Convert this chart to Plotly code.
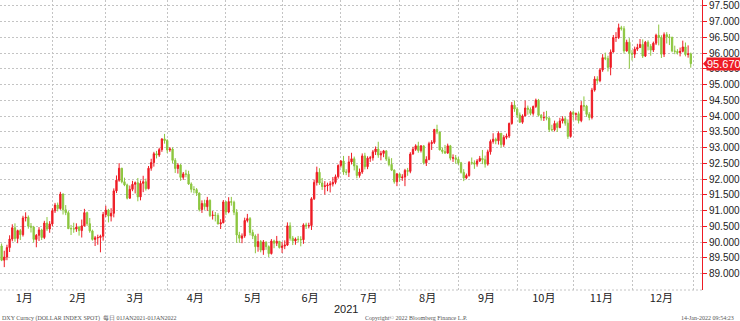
import pandas as pd
import plotly.graph_objects as go

# ---- data: DXY daily OHLC, 2021 ----
dates = pd.bdate_range("2021-01-04", "2021-12-31")

open_px = [
    89.94, 89.88, 89.43, 89.53, 89.83, 90.10, 90.46, 90.12, 90.37, 90.24, 90.77, 90.79, 90.51, 90.48, 90.09, 90.22, 90.39, 90.15, 90.61, 90.42,
    90.58, 91.00, 91.18, 91.07, 91.53, 91.03, 90.94, 90.43, 90.43, 90.42, 90.48, 90.37, 90.52, 90.94, 90.59, 90.36, 90.09, 90.14, 90.15, 90.19,
    90.88, 91.02, 90.83, 90.92, 91.63, 91.97, 92.35, 91.92, 91.82, 91.40, 91.68, 91.84, 91.89, 91.44, 91.87, 91.92, 91.70, 92.35, 92.53, 92.81, 92.77, 92.94, 93.28,
    93.23, 92.93, 92.96, 92.60, 92.34, 92.45, 92.06, 92.17, 92.16, 91.85, 91.68, 91.67, 91.56, 91.04, 91.23, 91.13, 91.33, 90.85, 90.86, 90.85, 90.58, 90.62,
    91.28, 90.96, 91.29, 91.27, 90.95, 90.23, 90.13, 90.20, 90.69, 90.75, 90.31, 90.20, 89.86, 90.02, 89.75, 90.01, 89.86, 89.64, 90.04, 89.97, 90.03,
    89.83, 89.88, 89.91, 90.52, 90.13, 90.04, 90.10, 90.09, 90.08, 90.55, 90.52, 90.53, 91.38, 91.90, 92.22, 91.88, 91.77, 91.79, 91.82, 91.85, 91.90, 92.08,
    92.44, 92.58, 92.23, 92.22, 92.55, 92.65, 92.42, 92.12, 92.23, 92.74, 92.40, 92.67, 92.68, 92.87, 92.96, 92.77, 92.82, 92.90, 92.64, 92.47, 92.29, 91.92,
    92.17, 92.05, 92.07, 92.28, 92.25, 92.80, 92.95, 93.06, 92.91, 93.06, 92.52, 92.63, 93.13, 93.17, 93.58, 93.50, 92.93, 92.88, 92.83, 93.06, 92.67, 92.68,
    92.63, 92.52, 92.22, 92.04, 92.12, 92.53, 92.52, 92.48, 92.58, 92.66, 92.62, 92.48, 92.87, 93.20, 93.27, 93.22, 93.46, 93.10, 93.33, 93.37, 93.77, 94.35,
    94.23, 94.04, 93.81, 94.01, 94.26, 94.22, 94.09, 94.31, 94.51, 94.03, 93.95, 93.96, 93.94, 93.58, 93.57, 93.77, 93.64, 93.85, 93.92, 93.78, 93.36,
    94.12, 94.06, 94.08, 93.86, 94.34, 94.32, 94.06, 93.96, 94.83, 95.18, 95.13, 95.47, 95.86, 95.83, 95.55, 96.04, 96.50, 96.50, 96.81, 96.78, 96.07, 96.35,
    95.99, 95.97, 96.13, 96.18, 96.28, 95.91, 96.35, 96.22, 96.10, 96.32, 96.57, 96.50, 95.97, 96.59, 96.52, 96.50, 96.07, 96.06, 96.02, 96.06, 96.20, 95.96, 95.98,
]
high_px = [
    90.08, 89.96, 89.73, 89.92, 90.22, 90.57, 90.60, 90.40, 90.42, 90.84, 90.95, 90.85, 90.61, 90.52, 90.26, 90.48, 90.43, 90.68, 90.80, 90.67,
    91.08, 91.25, 91.26, 91.60, 91.55, 91.18, 90.99, 90.55, 90.62, 90.60, 90.52, 90.72, 91.06, 90.97, 90.77, 90.40, 90.20, 90.24, 90.24, 90.96,
    91.16, 91.06, 91.08, 91.71, 92.12, 92.51, 92.36, 92.05, 91.86, 91.80, 91.95, 91.93, 92.04, 91.96, 92.11, 92.02, 92.42, 92.65, 92.87, 92.90, 93.00, 93.30, 93.44,
    93.27, 93.02, 93.01, 92.67, 92.51, 92.48, 92.23, 92.30, 92.27, 91.90, 91.78, 91.72, 91.58, 91.33, 91.35, 91.44, 91.36, 90.99, 90.96, 90.92, 90.73, 91.34,
    91.31, 91.43, 91.44, 91.32, 91.05, 90.33, 90.28, 90.78, 90.90, 90.80, 90.40, 90.25, 90.27, 90.07, 90.07, 90.02, 89.90, 90.10, 90.08, 90.20, 90.04,
    90.01, 90.06, 90.63, 90.63, 90.20, 90.15, 90.20, 90.19, 90.60, 90.62, 90.62, 91.43, 91.99, 92.40, 92.35, 92.04, 91.94, 91.89, 91.94, 92.07, 92.15, 92.47,
    92.61, 92.74, 92.32, 92.74, 92.84, 92.72, 92.46, 92.34, 92.82, 92.84, 92.73, 92.74, 92.93, 93.04, 93.19, 92.90, 92.93, 92.92, 92.72, 92.67, 92.31, 92.20,
    92.20, 92.16, 92.33, 92.36, 92.86, 93.03, 93.11, 93.19, 93.08, 93.07, 92.73, 93.19, 93.24, 93.60, 93.73, 93.51, 93.01, 93.09, 93.13, 93.09, 92.79, 92.77,
    92.71, 92.55, 92.32, 92.18, 92.58, 92.69, 92.60, 92.64, 92.74, 92.93, 92.75, 92.94, 93.26, 93.46, 93.32, 93.52, 93.47, 93.40, 93.45, 93.80, 94.45, 94.50,
    94.29, 94.12, 94.06, 94.50, 94.34, 94.28, 94.34, 94.56, 94.55, 94.07, 94.14, 94.17, 93.97, 93.73, 93.86, 93.83, 93.95, 94.00, 93.99, 93.90, 94.17,
    94.18, 94.12, 94.15, 94.48, 94.63, 94.36, 94.13, 94.90, 95.27, 95.27, 95.53, 95.97, 96.02, 95.92, 96.12, 96.58, 96.67, 96.94, 96.87, 96.86, 96.43, 96.48,
    96.10, 96.21, 96.30, 96.45, 96.44, 96.39, 96.41, 96.29, 96.37, 96.62, 96.91, 96.57, 96.66, 96.67, 96.61, 96.53, 96.24, 96.13, 96.18, 96.40, 96.34, 96.25, 96.02,
]
low_px = [
    89.42, 89.40, 89.21, 89.43, 89.69, 90.03, 90.02, 89.97, 90.07, 90.18, 90.66, 90.43, 90.31, 89.99, 89.84, 90.04, 90.07, 90.10, 90.36, 90.30,
    90.51, 90.93, 90.98, 91.03, 90.88, 90.86, 90.42, 90.23, 90.30, 90.33, 90.21, 90.15, 90.50, 90.52, 90.30, 90.05, 89.88, 89.92, 89.68, 90.05,
    90.80, 90.63, 90.66, 90.79, 91.56, 91.92, 91.87, 91.78, 91.36, 91.38, 91.62, 91.55, 91.30, 91.33, 91.59, 91.64, 91.68, 92.27, 92.40, 92.66, 92.71, 92.87, 93.13,
    92.83, 92.87, 92.51, 92.20, 92.18, 91.95, 91.98, 92.06, 91.82, 91.58, 91.55, 91.47, 90.98, 90.93, 91.03, 90.99, 90.80, 90.72, 90.66, 90.57, 90.42, 90.60,
    90.86, 90.92, 91.16, 90.86, 89.98, 89.98, 89.97, 90.14, 90.63, 90.22, 90.10, 89.65, 89.70, 89.68, 89.60, 89.76, 89.53, 89.61, 89.81, 89.88, 89.80,
    89.66, 89.78, 89.88, 90.05, 89.91, 89.92, 89.99, 89.87, 89.95, 90.42, 90.44, 90.39, 91.34, 91.80, 91.82, 91.66, 91.51, 91.62, 91.58, 91.77, 91.84, 92.02,
    92.37, 92.14, 92.13, 92.07, 92.47, 92.28, 92.03, 92.05, 92.17, 92.31, 92.32, 92.55, 92.59, 92.77, 92.68, 92.60, 92.70, 92.58, 92.41, 92.26, 91.86, 91.78,
    91.92, 91.95, 91.78, 92.11, 92.19, 92.78, 92.90, 92.84, 92.85, 92.47, 92.42, 92.60, 92.93, 93.12, 93.43, 92.92, 92.81, 92.80, 92.81, 92.60, 92.55, 92.49,
    92.45, 92.18, 91.94, 92.00, 92.08, 92.46, 92.33, 92.40, 92.55, 92.48, 92.37, 92.43, 92.78, 93.13, 93.11, 93.10, 93.01, 93.03, 93.27, 93.31, 93.73, 94.14,
    93.95, 93.79, 93.76, 94.00, 94.05, 94.03, 94.02, 94.26, 93.99, 93.86, 93.85, 93.87, 93.50, 93.52, 93.52, 93.50, 93.62, 93.77, 93.70, 93.28, 93.32,
    93.87, 93.87, 93.77, 93.81, 94.17, 93.98, 93.87, 93.90, 94.78, 95.03, 95.08, 95.41, 95.78, 95.42, 95.30, 96.02, 96.36, 96.45, 96.72, 95.99, 96.05, 95.51,
    95.77, 95.85, 96.07, 96.18, 95.85, 95.88, 96.09, 95.92, 96.04, 96.26, 96.25, 95.85, 95.88, 96.31, 96.26, 96.03, 95.97, 95.96, 95.90, 96.03, 95.90, 95.86, 95.54,
]
close_px = [
    89.88, 89.43, 89.53, 89.83, 90.10, 90.46, 90.12, 90.37, 90.24, 90.77, 90.79, 90.51, 90.48, 90.09, 90.22, 90.39, 90.15, 90.61, 90.42, 90.58,
    91.00, 91.18, 91.07, 91.53, 91.03, 90.94, 90.43, 90.43, 90.42, 90.48, 90.37, 90.52, 90.94, 90.59, 90.36, 90.09, 90.14, 90.15, 90.19, 90.88,
    91.02, 90.83, 90.92, 91.63, 91.97, 92.35, 91.92, 91.82, 91.40, 91.68, 91.84, 91.89, 91.44, 91.87, 91.92, 91.70, 92.35, 92.53, 92.81, 92.77, 92.94, 93.28, 93.23,
    92.93, 92.96, 92.60, 92.34, 92.45, 92.06, 92.17, 92.16, 91.85, 91.68, 91.67, 91.56, 91.04, 91.23, 91.13, 91.33, 90.85, 90.86, 90.85, 90.58, 90.62, 91.28,
    90.96, 91.29, 91.27, 90.95, 90.23, 90.13, 90.20, 90.69, 90.75, 90.31, 90.20, 89.86, 90.02, 89.75, 90.01, 89.86, 89.64, 90.04, 89.97, 90.03, 89.83,
    89.88, 89.91, 90.52, 90.13, 90.04, 90.10, 90.09, 90.08, 90.55, 90.52, 90.53, 91.38, 91.90, 92.22, 91.88, 91.77, 91.79, 91.82, 91.85, 91.90, 92.08, 92.44,
    92.58, 92.23, 92.22, 92.55, 92.65, 92.42, 92.12, 92.23, 92.74, 92.40, 92.67, 92.68, 92.87, 92.96, 92.77, 92.82, 92.90, 92.64, 92.47, 92.29, 91.92, 92.17,
    92.05, 92.07, 92.28, 92.25, 92.80, 92.95, 93.06, 92.91, 93.06, 92.52, 92.63, 93.13, 93.17, 93.58, 93.50, 92.93, 92.88, 92.83, 93.06, 92.67, 92.68, 92.63,
    92.52, 92.22, 92.04, 92.12, 92.53, 92.52, 92.48, 92.58, 92.66, 92.62, 92.48, 92.87, 93.20, 93.27, 93.22, 93.46, 93.10, 93.33, 93.37, 93.77, 94.35, 94.23,
    94.04, 93.81, 94.01, 94.26, 94.22, 94.09, 94.31, 94.51, 94.03, 93.95, 93.96, 93.94, 93.58, 93.57, 93.77, 93.64, 93.85, 93.92, 93.78, 93.36, 94.12,
    94.06, 94.08, 93.86, 94.34, 94.32, 94.06, 93.96, 94.83, 95.18, 95.13, 95.47, 95.86, 95.83, 95.55, 96.04, 96.50, 96.50, 96.81, 96.78, 96.07, 96.35, 95.99,
    95.97, 96.13, 96.18, 96.28, 95.91, 96.35, 96.22, 96.10, 96.32, 96.57, 96.50, 95.97, 96.59, 96.52, 96.50, 96.07, 96.06, 96.02, 96.06, 96.20, 95.96, 95.98, 95.67,
]
month_labels = ["1月", "2月", "3月", "4月", "5月", "6月", "7月", "8月", "9月", "10月", "11月", "12月"]
y_ticks = [89.0, 89.5, 90.0, 90.5, 91.0, 91.5, 92.0, 92.5, 93.0, 93.5, 94.0, 94.5, 95.0, 95.5, 96.0, 96.5, 97.0, 97.5]
last_price = close_px[-1]

# ---- derived positions (trading-day index axis) ----
idx = list(range(len(dates)))
months = [d.month for d in dates]
month_starts = [i for i in idx if i == 0 or months[i] != months[i - 1]][1:] + [len(idx)]
month_mid = []
for m in range(1, 13):
    ii = [i for i in idx if months[i] == m]
    month_mid.append(sum(ii) / len(ii))

RED = "#ee1c25"
GREEN = "#8cc63f"
GRID = "#c4c4c4"
DOTS = "2px,2px"

fig = go.Figure()
fig.add_trace(go.Candlestick(
    x=idx, open=open_px, high=high_px, low=low_px, close=close_px,
    increasing=dict(line=dict(color=RED, width=1), fillcolor=RED),
    decreasing=dict(line=dict(color=GREEN, width=1), fillcolor=GREEN),
    whiskerwidth=0, showlegend=False,
    text=[d.strftime("%Y-%m-%d") for d in dates], hoverinfo="text+y",
))

fig.update_layout(
    width=740, height=321,
    margin=dict(l=0, r=36, t=0, b=31),
    paper_bgcolor="white", plot_bgcolor="white",
    showlegend=False,
    font=dict(family="Liberation Sans, Arial, sans-serif", color="#222222"),
    xaxis=dict(
        range=[0.4, 263.2],
        rangeslider=dict(visible=False),
        tickmode="array", tickvals=month_mid, ticktext=month_labels,
        showgrid=False, ticks="", zeroline=False, showline=False,
        tickfont=dict(family="Noto Sans CJK SC, Liberation Sans, sans-serif", size=11, color="#222222"),
        minor=dict(tickmode="array", tickvals=month_starts, showgrid=True,
                   gridcolor=GRID, griddash=DOTS, gridwidth=1, ticks=""),
    ),
    yaxis=dict(
        side="right",
        range=[88.484, 97.69],
        tickmode="array", tickvals=y_ticks, tickformat=".3f",
        showgrid=True, gridcolor=GRID, griddash=DOTS, gridwidth=1,
        showline=True, linecolor=RED, linewidth=1,
        ticks="outside", ticklen=4, tickcolor=RED, tickwidth=1,
        tickfont=dict(family="Liberation Sans, Arial, sans-serif", size=10, color="#222222"),
        zeroline=False,
    ),
)

# bottom dotted border of plotting area
fig.add_shape(type="line", xref="paper", yref="paper", x0=0, x1=1, y0=0, y1=0,
              line=dict(color=GRID, width=1, dash=DOTS))

# last-price tag
fig.add_shape(type="path", xref="paper", yref="y",
              path=f"M 1.0014,{last_price} L 1.0085,{last_price + 0.17} L 1.0085,{last_price - 0.17} Z",
              fillcolor=RED, line=dict(width=0))
fig.add_annotation(x=1, xref="paper", y=last_price, yref="y", text=f"{last_price:.3f}",
                   showarrow=False, xanchor="left", xshift=4, yanchor="middle",
                   bgcolor=RED, borderpad=0,
                   font=dict(family="Liberation Sans, Arial, sans-serif", size=11, color="white"))

# year label
fig.add_annotation(x=0.493, xref="paper", y=-19 / 290, yref="paper", text="2021",
                   showarrow=False, xanchor="center", yanchor="middle",
                   font=dict(family="Liberation Sans, Arial, sans-serif", size=11, color="#222222"))

# footer texts
foot = dict(family="Liberation Serif, DejaVu Serif, serif", size=6, color="#555555")
fig.add_annotation(x=0, xref="paper", y=-28 / 290, yref="paper", text="DXY Curncy (DOLLAR INDEX SPOT)  每日 01JAN2021-01JAN2022",
                   showarrow=False, xanchor="left", yanchor="middle", font=foot)
fig.add_annotation(x=418 / 704, xref="paper", y=-28 / 290, yref="paper", text="Copyright© 2022 Bloomberg Finance L.P.",
                   showarrow=False, xanchor="center", yanchor="middle", font=foot)
fig.add_annotation(x=738 / 704, xref="paper", y=-28 / 290, yref="paper", text="14-Jan-2022 09:54:23",
                   showarrow=False, xanchor="right", yanchor="middle", font=foot)

fig.write_html("out.html")
